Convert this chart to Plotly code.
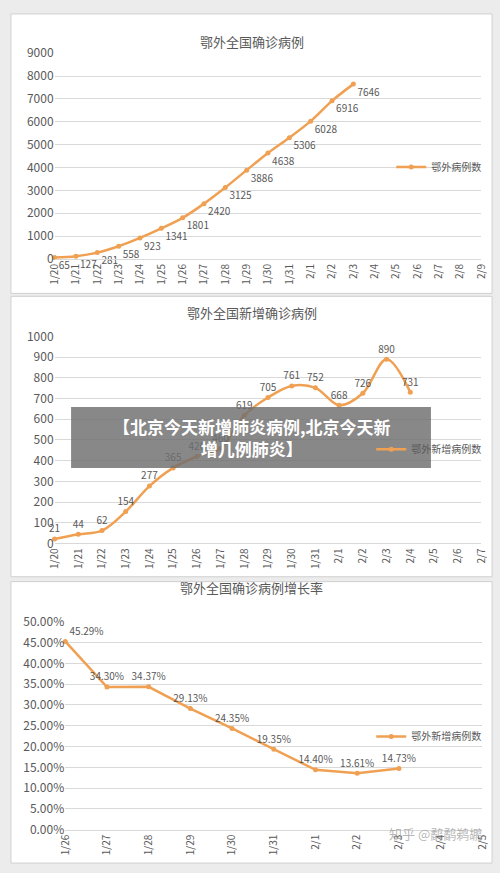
import plotly.graph_objects as go

W, H = 500, 873
cats1 = ["1/20","1/21","1/22","1/23","1/24","1/25","1/26","1/27","1/28","1/29","1/30","1/31","2/1","2/2","2/3","2/4","2/5","2/6","2/7","2/8","2/9"]
vals1 = [65,127,281,558,923,1341,1801,2420,3125,3886,4638,5306,6028,6916,7646]
cats2 = ["1/20","1/21","1/22","1/23","1/24","1/25","1/26","1/27","1/28","1/29","1/30","1/31","2/1","2/2","2/3","2/4","2/5","2/6","2/7"]
vals2 = [21,44,62,154,277,365,420,460,619,705,761,752,668,726,890,731]
cats3 = ["1/26","1/27","1/28","1/29","1/30","1/31","2/1","2/2","2/3","2/4","2/5"]
vals3 = [0.4529,0.3430,0.3437,0.2913,0.2435,0.1935,0.1440,0.1361,0.1473]
titles = ["鄂外全国确诊病例","鄂外全国新增确诊病例","鄂外全国确诊病例增长率"]
names = ["鄂外病例数","鄂外新增病例数","鄂外新增病例数"]

C = "#f0a052"
TXT = "#595959"
FONT = "Noto Sans CJK SC"
px = lambda x: x / W
py = lambda y: 1 - y / H

fig = go.Figure()
fig.add_trace(go.Scatter(x=cats1[:len(vals1)], y=vals1, mode="lines+markers+text", name=names[0],
    text=[str(v) for v in vals1], textposition="bottom right", textfont=dict(size=10, color=TXT),
    line=dict(color=C, width=2.5, shape="spline"), marker=dict(size=5, color=C), cliponaxis=False,
    xaxis="x", yaxis="y", legend="legend"))
fig.add_trace(go.Scatter(x=cats2[:len(vals2)], y=vals2, mode="lines+markers+text", name=names[1],
    text=[str(v) for v in vals2], textposition="top center", textfont=dict(size=10, color=TXT),
    line=dict(color=C, width=2.5, shape="spline"), marker=dict(size=5, color=C), cliponaxis=False,
    xaxis="x2", yaxis="y2", legend="legend2"))
fig.add_trace(go.Scatter(x=cats3[:len(vals3)], y=vals3, mode="lines+markers+text", name=names[2],
    text=[f"{v*100:.2f}%" for v in vals3], textposition=["top right"] + ["top center"]*(len(vals3)-1),
    textfont=dict(size=10, color=TXT), cliponaxis=False,
    line=dict(color=C, width=2.5), marker=dict(size=5, color=C),
    xaxis="x3", yaxis="y3", legend="legend3"))

def xax(dom, cats, anchor):
    return dict(domain=dom, type="category", categoryorder="array", categoryarray=cats,
                range=[0, len(cats)-1], tickangle=-90, tickfont=dict(size=10, color=TXT),
                showgrid=False, showline=True, linecolor="#d9d9d9", anchor=anchor, fixedrange=True)
def yax(dom, rng, dtick, anchor, fmt=None):
    d = dict(domain=dom, range=rng, dtick=dtick, tickfont=dict(size=12, color=TXT),
             gridcolor="#d9d9d9", zeroline=False, showline=False, anchor=anchor, ticks="")
    if fmt: d["tickformat"] = fmt
    return d

def leg(y):
    return dict(x=px(492), y=py(y), yanchor="middle", xanchor="right", bgcolor="rgba(0,0,0,0)",
                font=dict(size=10, color=TXT), itemwidth=30, tracegroupgap=0)

fig.update_layout(
    width=W, height=H, margin=dict(l=0, r=0, t=0, b=0),
    paper_bgcolor="#ececec", plot_bgcolor="white", font=dict(family=FONT, color=TXT),
    xaxis=xax([px(47), px(487)], cats1, "y"),
    yaxis=yax([py(254), py(44)], [0, 9000], 1000, "x"),
    xaxis2=xax([px(47), px(487)], cats2, "y2"),
    yaxis2=yax([py(544), py(333)], [0, 1000], 100, "x2"),
    xaxis3=xax([px(58), px(488)], cats3, "y3"),
    yaxis3=yax([py(836), py(624)], [0, 0.5], 0.05, "x3", ".2%"),
    legend=leg(160), legend2=leg(448), legend3=leg(741),
    showlegend=True,
)

shapes = []
for (y0, y1) in [(4, 289), (292, 578), (583, 870)]:
    shapes.append(dict(type="rect", xref="paper", yref="paper", x0=px(2), x1=px(498), y0=py(y1), y1=py(y0),
                       fillcolor="white", line=dict(color="#d0d0d0", width=1), layer="below"))
shapes.append(dict(type="rect", xref="paper", yref="paper", x0=px(64), x1=px(435), y0=py(467), y1=py(405),
                   fillcolor="rgba(110,110,110,0.82)", line=dict(width=0), layer="above"))
fig.update_layout(shapes=shapes)

ann = []
for t, y in zip(titles, [20, 308, 601]):
    ann.append(dict(text=t, x=0.5, y=py(y), xref="paper", yref="paper", showarrow=False,
                    font=dict(size=13, color=TXT)))
ann.append(dict(text="<b>【北京今天新增肺炎病例,北京今天新<br>增几例肺炎】</b>", x=0.5, y=py(436), xref="paper", yref="paper",
                showarrow=False, font=dict(size=17, color="white"), align="center"))
ann.append(dict(text="知乎 @鹬鹬鹈鹕", x=px(490), y=py(852), xref="paper", yref="paper", xanchor="right",
                showarrow=False, font=dict(size=13, color="rgba(150,150,150,0.7)")))
fig.update_layout(annotations=ann)

fig.write_html("out.html", config={"displayModeBar": False},
               post_script="document.body.style.margin='0';document.body.style.overflow='hidden';")
